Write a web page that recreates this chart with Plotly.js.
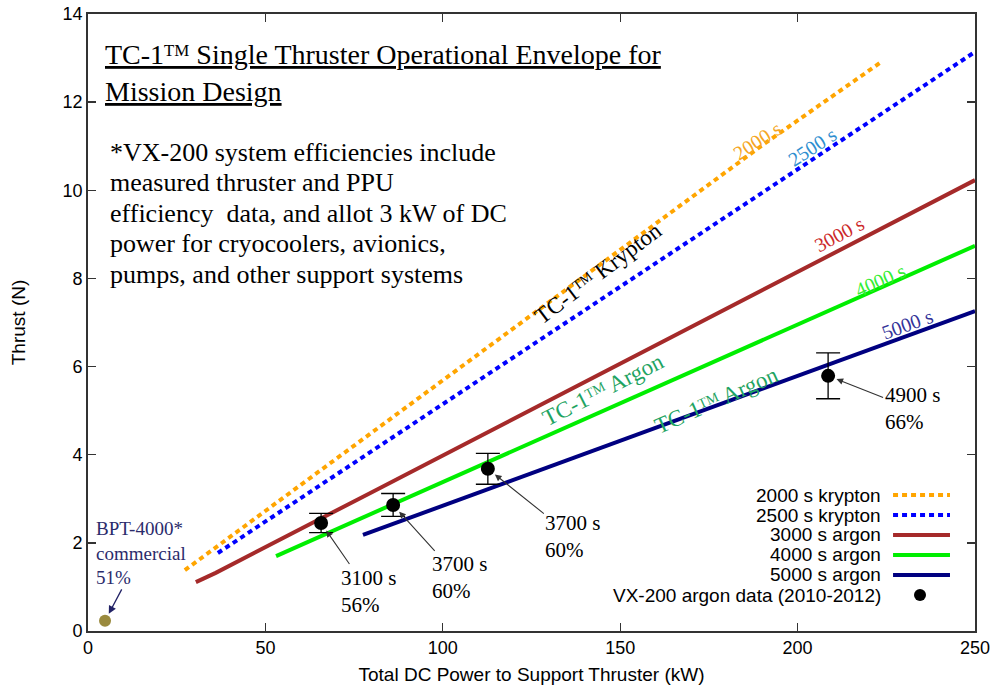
<!DOCTYPE html>
<html>
<head>
<meta charset="utf-8">
<script src="https://cdn.plot.ly/plotly-3.0.1.min.js"></script>
<style>html,body{margin:0;padding:0;background:#fff;}#chart{width:994px;height:692px;}</style>
</head>
<body>
<div id="chart"></div>
<script>
// ---- Data ----
const kr2000X = [27.3, 60, 100, 150, 190, 223.2];
const kr2000Y = [1.38, 3.32, 5.70, 8.66, 11.02, 12.89];
const kr2500X = [36.6, 80, 120, 160, 200, 250];
const kr2500Y = [1.77, 4.08, 6.22, 8.35, 10.48, 13.14];
const ar3000X = [30.4, 36.0, 80, 130, 180, 250];
const ar3000Y = [1.11, 1.32, 3.15, 5.23, 7.31, 10.23];
const ar4000X = [53.0, 100, 150, 200, 250];
const ar4000Y = [1.70, 3.38, 5.17, 6.96, 8.74];
const ar5000X = [77.5, 120, 160, 200, 250];
const ar5000Y = [2.18, 3.43, 4.61, 5.79, 7.26];
const vxX = [65.7, 86.0, 112.7, 208.6];
const vxY = [2.45, 2.86, 3.68, 5.79];
const vxErr = [0.22, 0.26, 0.35, 0.52];
const vxIsp = ["3100 s", "3700 s", "3700 s", "4900 s"];
const vxEff = ["56%", "60%", "60%", "66%"];
const bptX = [4.8];
const bptY = [0.23];
const seriesNames = ["2000 s krypton", "2500 s krypton", "3000 s argon", "4000 s argon", "5000 s argon", "VX-200 argon data (2010-2012)"];
const titleLines = ["TC-1ᵀᴹ Single Thruster Operational Envelope for", "Mission Design"];
const noteLines = ["*VX-200 system efficiencies include", "measured thruster and PPU", "efficiency  data, and allot 3 kW of DC", "power for cryocoolers, avionics,", "pumps, and other support systems"];
const xTicks = [0, 50, 100, 150, 200, 250];
const yTicks = [0, 2, 4, 6, 8, 10, 12, 14];

const serif = "Liberation Serif, Times New Roman, serif";
const sans = "Liberation Sans, Arial, sans-serif";
const colors = ["#ffa500", "#0000ff", "#a52a2a", "#00ee00", "#000080", "#000000"];
const dashPat = "5px,4px";

const traces = [
  {x: kr2000X, y: kr2000Y, name: seriesNames[0], mode: "lines", line: {color: colors[0], width: 4, dash: dashPat}},
  {x: kr2500X, y: kr2500Y, name: seriesNames[1], mode: "lines", line: {color: colors[1], width: 4, dash: dashPat}},
  {x: ar3000X, y: ar3000Y, name: seriesNames[2], mode: "lines", line: {color: colors[2], width: 4}},
  {x: ar4000X, y: ar4000Y, name: seriesNames[3], mode: "lines", line: {color: colors[3], width: 4}},
  {x: ar5000X, y: ar5000Y, name: seriesNames[4], mode: "lines", line: {color: colors[4], width: 4}},
  {x: vxX, y: vxY, name: seriesNames[5], mode: "markers", marker: {color: "#000", size: 14, symbol: "circle"},
   error_y: {type: "data", array: vxErr, visible: true, color: "#000", thickness: 1.3, width: 12}},
  {x: bptX, y: bptY, name: "BPT-4000", mode: "markers", marker: {color: "#9a8a3e", size: 12, symbol: "circle"}}
];

const annotations = [];
// Title (underlined), one annotation per line
titleLines.forEach((t, i) => annotations.push({xref: "paper", yref: "paper", x: 0.0169, y: (631 - 55 - 37 * i) / 617,
  xanchor: "left", yanchor: "middle", align: "left", showarrow: false,
  text: '<span style="text-decoration:underline">' + t + '</span>', font: {family: serif, size: 28, color: "#000"}}));
// Body note
noteLines.forEach((t, i) => annotations.push({xref: "paper", yref: "paper", x: 0.0225, y: (631 - 152 - 30.5 * i) / 617,
  xanchor: "left", yanchor: "middle", align: "left", showarrow: false,
  text: t, font: {family: serif, size: 26, color: "#000"}}));
// Rotated labels
const rot = [
  {t: "TC-1ᵀᴹ Krypton", x: 143.7, y: 8.12, a: -37, c: "#000", s: 23},
  {t: "2000 s", x: 188.6, y: 11.12, a: -33, c: "#f5a623", s: 20},
  {t: "2500 s", x: 204.1, y: 10.98, a: -33, c: "#2f8fd0", s: 20},
  {t: "3000 s", x: 211.9, y: 9.00, a: -28, c: "#cc2a2a", s: 20},
  {t: "4000 s", x: 223.5, y: 7.96, a: -24, c: "#33ee33", s: 20},
  {t: "5000 s", x: 231.1, y: 6.96, a: -20, c: "#333399", s: 20},
  {t: "TC-1ᵀᴹ Argon", x: 145.4, y: 5.47, a: -27, c: "#1fa463", s: 23},
  {t: "TC-1ᵀᴹ Argon", x: 177.0, y: 5.24, a: -24, c: "#1fa463", s: 23}
];
rot.forEach(r => annotations.push({xref: "x", yref: "y", x: r.x, y: r.y, text: r.t, textangle: r.a, showarrow: false,
  font: {family: serif, size: r.s, color: r.c}}));
// Data labels with arrows pointing at the measured points
const lblOff = [[47, 68], [66, 73], [85, 68], [84, 33]];
vxX.forEach((x, i) => {
  annotations.push({xref: "x", yref: "y", x: x, y: vxY[i], ax: lblOff[i][0], ay: lblOff[i][1], showarrow: true,
    arrowhead: 2, arrowsize: 1.2, arrowwidth: 1.1, arrowcolor: "#333", standoff: 9, borderpad: 1, align: "left",
    text: vxIsp[i] + "<br>" + vxEff[i], font: {family: serif, size: 21, color: "#000"}});
});
// BPT label
annotations.push({xref: "x", yref: "y", x: bptX[0], y: bptY[0], ax: 36, ay: -68, showarrow: true,
  arrowhead: 2, arrowsize: 1.2, arrowwidth: 1.3, arrowcolor: "#222266", standoff: 8, borderpad: 1, align: "left",
  text: "BPT-4000*<br>commercial<br>51%", font: {family: serif, size: 19, color: "#2b2b6b"}});

// Manual legend (text left, sample right)
const shapes = [];
const legY = [0.2204, 0.1880, 0.1556, 0.1232, 0.0908, 0.0583];
seriesNames.forEach((n, i) => {
  annotations.push({xref: "paper", yref: "paper", x: 0.8963, y: legY[i], xanchor: "right", yanchor: "middle", showarrow: false,
    text: n, font: {family: sans, size: 19, color: "#000"}});
  if (i < 5) {
    shapes.push({type: "line", xref: "paper", yref: "paper", x0: 0.9076, x1: 0.9718, y0: legY[i], y1: legY[i],
      line: {color: colors[i], width: 4, dash: i < 2 ? dashPat : "solid"}});
  } else {
    shapes.push({type: "circle", xref: "paper", yref: "paper", xsizemode: "pixel", ysizemode: "pixel",
      xanchor: 0.938, yanchor: legY[i], x0: -6, x1: 6, y0: -6, y1: 6, fillcolor: "#000", line: {width: 0}});
  }
});

const layout = {
  width: 994, height: 692,
  margin: {l: 88, r: 19, t: 14, b: 61},
  paper_bgcolor: "#fff", plot_bgcolor: "#fff",
  showlegend: false,
  xaxis: {range: [0, 250], tickvals: xTicks, ticks: "inside", ticklen: 8, tickwidth: 1.3, tickcolor: "#333",
    showline: true, linecolor: "#333", linewidth: 1.8, mirror: "allticks", showgrid: false, zeroline: false,
    tickfont: {family: sans, size: 18, color: "#000"},
    title: {text: "Total DC Power to Support Thruster (kW)", font: {family: sans, size: 19, color: "#000"}, standoff: 10}},
  yaxis: {range: [0, 14], tickvals: yTicks, ticks: "inside", ticklen: 8, tickwidth: 1.3, tickcolor: "#333",
    showline: true, linecolor: "#333", linewidth: 1.8, mirror: "allticks", showgrid: false, zeroline: false,
    tickfont: {family: sans, size: 18, color: "#000"},
    title: {text: "Thrust (N)", font: {family: sans, size: 19, color: "#000"}, standoff: 32}},
  annotations: annotations,
  shapes: shapes
};

Plotly.newPlot("chart", traces, layout, {displayModeBar: false, staticPlot: true});
</script>
</body>
</html>
